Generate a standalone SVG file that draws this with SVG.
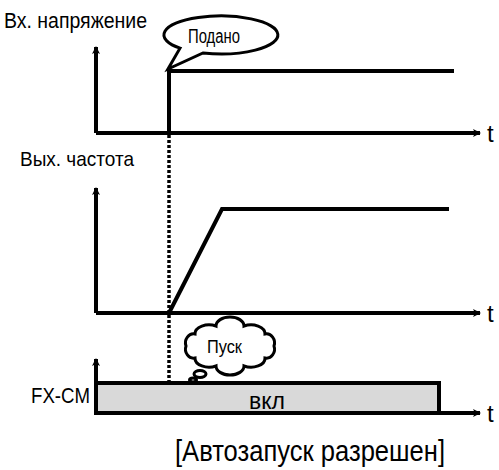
<svg xmlns="http://www.w3.org/2000/svg" width="499" height="470" viewBox="0 0 499 470">
<defs>
<style>
.ax{fill:none;stroke:#000;stroke-width:4;marker-end:url(#arr)}
.ln{fill:none;stroke:#000;stroke-width:4;stroke-linejoin:miter}
.dot{fill:none;stroke:#000;stroke-width:3.5;stroke-dasharray:3 2}
.bub{fill:#fff;stroke:#000;stroke-width:3}
text{font-family:"Liberation Sans",Arial,sans-serif;fill:#000}
</style>
<marker id="arr" markerWidth="10" markerHeight="10" refX="7" refY="4" orient="auto" markerUnits="userSpaceOnUse">
<path d="M0,0 L8,4 L0,8 L2,4 Z" fill="#000"/>
</marker>
</defs>
<g id="labels">
<text x="4" y="28" font-size="22" textLength="143" lengthAdjust="spacingAndGlyphs">Вх. напряжение</text>
<text x="20" y="166" font-size="21" textLength="114" lengthAdjust="spacingAndGlyphs">Вых. частота</text>
<text x="31" y="403" font-size="22" textLength="59" lengthAdjust="spacingAndGlyphs">FX-CM</text>
<text x="175" y="461" font-size="29" textLength="270" lengthAdjust="spacingAndGlyphs">[Автозапуск разрешен]</text>
<text x="487" y="142" font-size="24">t</text>
<text x="487" y="322" font-size="24">t</text>
<text x="487" y="422" font-size="24">t</text>
</g>
<g id="connectors">
<path class="dot" d="M169,135 V381"/>
</g>
<g id="graph-input">
<path class="ax" d="M96,133 V47"/>
<path class="ax" d="M96,133 H480"/>
<path class="ln" d="M169,133 V71 H454"/>
</g>
<g id="graph-output">
<path class="ax" d="M96,313 V188"/>
<path class="ax" d="M96,313 H480"/>
<path class="ln" d="M169,313 L222,209 H449"/>
</g>
<g id="graph-fxcm">
<path class="ax" d="M96,413 V359"/>
<path class="ax" d="M439,413 H480"/>
<rect x="96" y="383" width="343" height="30" fill="#d9d9d9" stroke="#000" stroke-width="4"/>
<text x="267" y="409" font-size="23" text-anchor="middle" textLength="36" lengthAdjust="spacingAndGlyphs">вкл</text>
</g>
<g id="bubble-podano">
<path class="bub" d="M203,53 A57,19 0 1 0 180,48.2 L168,69 Z"/>
<text x="188" y="43" font-size="20" textLength="52" lengthAdjust="spacingAndGlyphs">Подано</text>
</g>
<g id="cloud-pusk">
<path class="bub" d="M274,346 A8,9 0 0 1 265,358 A14,9 0 0 1 244,366 A14,9 0 0 1 216,366 A14,9 0 0 1 195,358 A8,9 0 0 1 186,346 A8,9 0 0 1 195,334 A14,9 0 0 1 216,326 A14,9 0 0 1 244,326 A14,9 0 0 1 265,334 A8,9 0 0 1 274,346 Z"/>
<ellipse class="bub" cx="200" cy="374" rx="6" ry="3.5"/>
<ellipse class="bub" cx="193" cy="380" rx="3.5" ry="2"/>
<text x="207" y="353" font-size="18" textLength="35" lengthAdjust="spacingAndGlyphs">Пуск</text>
</g>
</svg>
